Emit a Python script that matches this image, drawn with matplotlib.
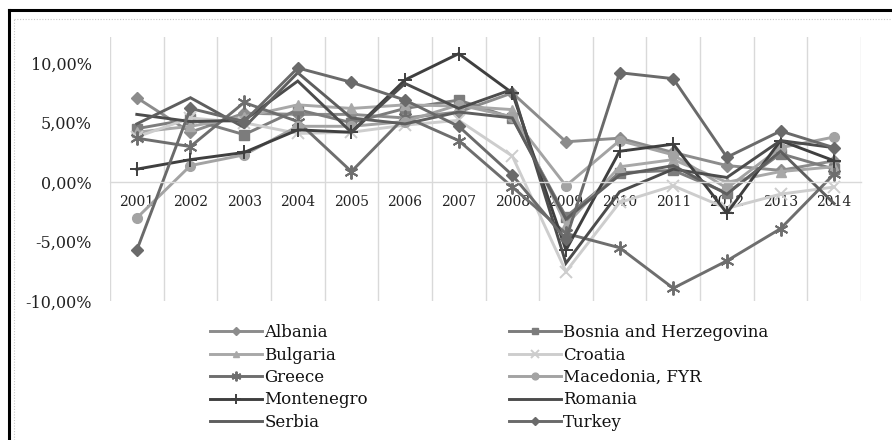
import matplotlib
matplotlib.use("Agg")
import matplotlib.pyplot as plt
from matplotlib.lines import Line2D

years = ["2001", "2002", "2003", "2004", "2005", "2006", "2007",
         "2008", "2009", "2010", "2011", "2012", "2013", "2014"]

albania    = [7.1, 4.2, 5.8, 5.7, 5.7, 5.4, 5.9, 7.5, 3.4, 3.7, 2.5, 1.4, 1.0, 1.8]
bosnia     = [4.5, 5.3, 4.0, 6.1, 5.0, 6.2, 6.9, 5.4, -2.9, 0.8, 1.0, -0.9, 2.4, 1.1]
bulgaria   = [4.2, 4.7, 5.5, 6.5, 6.2, 6.5, 6.4, 6.1, -3.6, 1.3, 1.9, 0.0, 0.9, 1.3]
croatia    = [3.8, 5.4, 5.0, 4.1, 4.2, 4.8, 5.2, 2.2, -7.5, -1.7, -0.3, -2.2, -1.0, -0.4]
greece     = [3.7, 3.0, 6.7, 5.1, 0.9, 5.5, 3.5, -0.4, -4.3, -5.5, -8.9, -6.6, -3.9, 0.7]
macedonia  = [-3.0, 1.4, 2.3, 4.7, 4.7, 5.1, 6.5, 5.5, -0.3, 3.5, 2.3, -0.5, 2.9, 3.8]
montenegro = [1.1, 1.9, 2.5, 4.4, 4.2, 8.6, 10.8, 7.5, -5.7, 2.6, 3.2, -2.6, 3.5, 1.8]
romania    = [5.7, 5.1, 5.2, 8.5, 4.2, 8.3, 6.2, 7.8, -6.8, -0.8, 1.1, 0.4, 3.5, 2.9]
serbia     = [4.9, 7.1, 4.6, 9.2, 5.4, 4.9, 5.9, 5.4, -3.1, 0.6, 1.4, -1.0, 2.6, -1.8]
turkey     = [-5.7, 6.2, 5.1, 9.6, 8.4, 6.9, 4.7, 0.6, -4.8, 9.2, 8.7, 2.1, 4.3, 2.9]

names = ["Albania", "Bosnia and Herzegovina", "Bulgaria", "Croatia", "Greece",
         "Macedonia, FYR", "Montenegro", "Romania", "Serbia", "Turkey"]
series = [albania, bosnia, bulgaria, croatia, greece,
          macedonia, montenegro, romania, serbia, turkey]
colors = ["#8c8c8c", "#7c7c7c", "#a8a8a8", "#cdcdcd", "#6e6e6e",
          "#a3a3a3", "#3f3f3f", "#4c4c4c", "#5e5e5e", "#6a6a6a"]
markers = ["D", "s", "^", "x", (6, 2, 0), "o", "+", None, None, "D"]
msizes = [6, 6.5, 7, 8, 10, 7, 10, 0, 0, 6]

yticks = [-10, -5, 0, 5, 10]
ytick_labels = ["-10,00%", "-5,00%", "0,00%", "5,00%", "10,00%"]

plt.rcParams['font.family'] = ['DejaVu Serif']

W, H = 892, 440
fig = plt.figure(figsize=(W / 100, H / 100), dpi=100)

# outer black frame (left and top visible)
fig.add_artist(Line2D([8.5 / W, 8.5 / W], [0, 1 - 10.5 / H], transform=fig.transFigure,
                      color="black", lw=2.2, solid_capstyle="projecting"))
fig.add_artist(Line2D([8.5 / W, 1], [1 - 10.5 / H, 1 - 10.5 / H], transform=fig.transFigure,
                      color="black", lw=2.2, solid_capstyle="projecting"))
# inner dotted chart-area border
fig.add_artist(Line2D([14 / W, 14 / W], [0, 1 - 19 / H], transform=fig.transFigure,
                      color="#c8c8c8", lw=0.8, ls=(0, (1, 1.5))))
fig.add_artist(Line2D([14 / W, 1], [1 - 19 / H, 1 - 19 / H], transform=fig.transFigure,
                      color="#c8c8c8", lw=0.8, ls=(0, (1, 1.5))))

ax = fig.add_axes([110 / W, 1 - 301.3 / H, (861 - 110) / W, (301.3 - 37) / H])
x = list(range(len(years)))

handles = []
for name, vals, c, m, ms in zip(names, series, colors, markers, msizes):
    mew = 1.4 if m in ("x", "+", (6, 2, 0)) else 1.0
    h, = ax.plot(x, vals, color=c, lw=2.1, marker=m, markersize=ms,
                 markeredgewidth=mew, markerfacecolor=c, markeredgecolor=c,
                 label=name, solid_joinstyle="miter")
    handles.append(h)

ax.set_xlim(-0.5, len(years) - 0.5)
ax.set_ylim(-10, 12.2)

ax.set_xticks(x)
ax.set_xticklabels(years, fontsize=11.5)
ax.set_xticks([i - 0.5 for i in range(len(years) + 1)], minor=True)
ax.grid(True, which="minor", axis="x", color="#d9d9d9", lw=1.0)
ax.grid(False, which="major")
ax.tick_params(axis="x", which="both", length=0, pad=9, colors="#222222")

ax.set_yticks(yticks)
ax.set_yticklabels(ytick_labels, fontsize=11.5)
ax.tick_params(axis="y", length=0, pad=13, colors="#222222")

for s in ("left", "top", "right"):
    ax.spines[s].set_visible(False)
ax.spines["bottom"].set_position(("data", 0))
ax.spines["bottom"].set_color("#d9d9d9")
ax.spines["bottom"].set_linewidth(1.0)
ax.set_axisbelow(True)

col1 = [0, 2, 4, 6, 8]
col2 = [1, 3, 5, 7, 9]
for idxs, x0 in ((col1, 210), (col2, 509)):
    leg = fig.legend([handles[i] for i in idxs], [names[i] for i in idxs],
                     ncol=1, loc="upper left", bbox_to_anchor=(x0 / W, 1 - 324 / H),
                     frameon=False, fontsize=12, handlelength=3.1, handletextpad=0.15,
                     labelspacing=0.33, borderpad=0, borderaxespad=0,
                     markerscale=0.7)
    for t in leg.get_texts():
        t.set_color("#111111")

fig.savefig("out.png", dpi=100)
